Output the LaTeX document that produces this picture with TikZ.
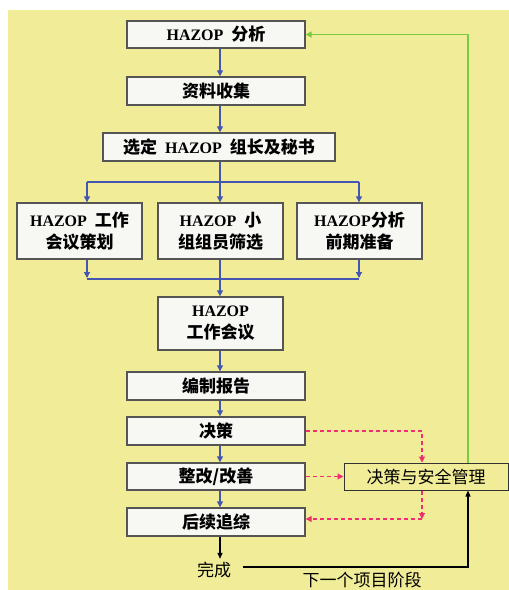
\documentclass[tikz,border=0pt]{standalone}
\usepackage{fontspec}
\setmainfont{Liberation Serif}
\newfontfamily\cjk{Noto Sans CJK SC}
\newfontfamily\lat{Liberation Serif}
\usetikzlibrary{arrows.meta,calc}
\definecolor{bgyellow}{HTML}{F0EC98}
\definecolor{boxfill}{HTML}{F7F7F4}
\definecolor{boxline}{HTML}{555555}
\definecolor{flowblue}{HTML}{4456B0}
\definecolor{loopgreen}{HTML}{77CC44}
\definecolor{dashpink}{HTML}{F0306E}
\newcommand{\HZ}{{\lat\fontsize{16}{20}\selectfont\bfseries HAZOP}}
\newcommand{\gap}{\hspace{8pt}}
\tikzset{
  box/.style={draw=boxline, fill=boxfill, line width=1.4pt, rectangle, inner sep=0pt,
    align=center, font=\cjk\fontsize{17}{22}\selectfont\bfseries},
  dmbox/.style={draw=black!80, line width=1pt, rectangle, inner sep=0pt,
    font=\cjk\fontsize{17}{22}\selectfont},
  flow/.style={draw=flowblue, line width=1.2pt},
  flowarrow/.style={flow, -{Triangle[length=6pt,width=6pt]}},
  pinkarrow/.style={draw=dashpink, line width=1.1pt, dash pattern=on 4pt off 3pt, -{Triangle[length=6pt,width=6pt]}},
  greenarrow/.style={draw=loopgreen, line width=1.3pt, -{Triangle[length=6pt,width=6pt]}},
  blackarrow/.style={draw=black, line width=1.1pt, -{Triangle[length=6pt,width=5pt]}},
  plain/.style={font=\cjk\fontsize{17}{22}\selectfont}
}
\begin{document}
\begin{tikzpicture}[x=1pt,y=-1pt]
\useasboundingbox (0,0) rectangle (509,590);
\fill[bgyellow] (8,10) rectangle (509,590);

\node[box, minimum width=178pt, minimum height=27pt] (n1) at (216,34.5) {\HZ\gap 分析};
\node[box, minimum width=178pt, minimum height=28pt] (n2) at (216,91) {资料收集};
\node[box, minimum width=232pt, minimum height=28pt] (n3) at (219,147) {选定\gap\HZ\gap 组长及秘书};
\node[box, minimum width=125pt, minimum height=56pt] (b1) at (79.5,231) {\HZ\gap 工作\\会议策划};
\node[box, minimum width=125pt, minimum height=56pt] (b2) at (220.5,231) {\HZ\gap 小\\组组员筛选};
\node[box, minimum width=125pt, minimum height=56pt] (b3) at (359.5,231) {\HZ{}分析\\前期准备};
\node[box, minimum width=125pt, minimum height=53pt] (n4) at (220.5,323.5) {\HZ\\工作会议};
\node[box, minimum width=178pt, minimum height=28pt] (n5) at (216,386) {编制报告};
\node[box, minimum width=178pt, minimum height=28pt] (n6) at (216,431) {决策};
\node[box, minimum width=178pt, minimum height=27pt] (n7) at (216,476.5) {整改/改善};
\node[box, minimum width=178pt, minimum height=28pt] (n8) at (216,522) {后续追综};
\node[dmbox, minimum width=164pt, minimum height=27pt] (dm) at (426,476.5) {决策与安全管理};
\node[plain, inner sep=1pt] (done) at (214,570) {完成};
\node[plain, inner sep=1pt] (next) at (362,580) {下一个项目阶段};

\coordinate (cx) at (220,0);
\coordinate (lx) at (87,0);
\coordinate (rx) at (359,0);
\coordinate (gx) at (468,0);
\coordinate (px) at (422,0);
\coordinate (splity) at (0,182);
\coordinate (joiny) at (0,279);

% main blue flow
\draw[flowarrow] (n1.south -| cx) -- (n2.north -| cx);
\draw[flowarrow] (n2.south -| cx) -- (n3.north -| cx);
\draw[flow] (n3.south -| cx) -- (splity -| cx);
\draw[flow] (splity -| lx) -- (splity -| rx);
\draw[flowarrow] (splity -| lx) -- (b1.north -| lx);
\draw[flowarrow] (splity -| cx) -- (b2.north -| cx);
\draw[flowarrow] (splity -| rx) -- (b3.north -| rx);
\draw[flowarrow] (b1.south -| lx) -- ($(joiny -| lx)+(0,-1)$);
\draw[flowarrow] (b3.south -| rx) -- ($(joiny -| rx)+(0,-1)$);
\draw[flow] (joiny -| lx) -- (joiny -| rx);
\draw[flowarrow] (b2.south -| cx) -- (n4.north -| cx);
\draw[flowarrow] (n4.south -| cx) -- (n5.north -| cx);
\draw[flowarrow] (n5.south -| cx) -- (n6.north -| cx);
\draw[flowarrow] (n6.south -| cx) -- (n7.north -| cx);
\draw[flowarrow] (n7.south -| cx) -- (n8.north -| cx);

% to done
\draw[blackarrow] (n8.south -| cx) -- ($(done.north -| cx)+(0,-2)$);
\coordinate (lineS) at (243,567);
\draw[blackarrow] (lineS) -- (lineS -| gx) -- (dm.south -| gx);

% green loop
\draw[greenarrow] (dm.north -| gx) -- (n1.east -| gx) -- (n1.east);

% pink dashed
\draw[pinkarrow] (n6.east) -- (n6.east -| px) -- (dm.north -| px);
\draw[pinkarrow] (n7.east) -- (dm.west);
\coordinate (pc) at (422,519);
\draw[pinkarrow] (dm.south -| px) -- (pc);
\draw[pinkarrow] (pc) -- (pc -| n8.east);
\end{tikzpicture}
\end{document}
